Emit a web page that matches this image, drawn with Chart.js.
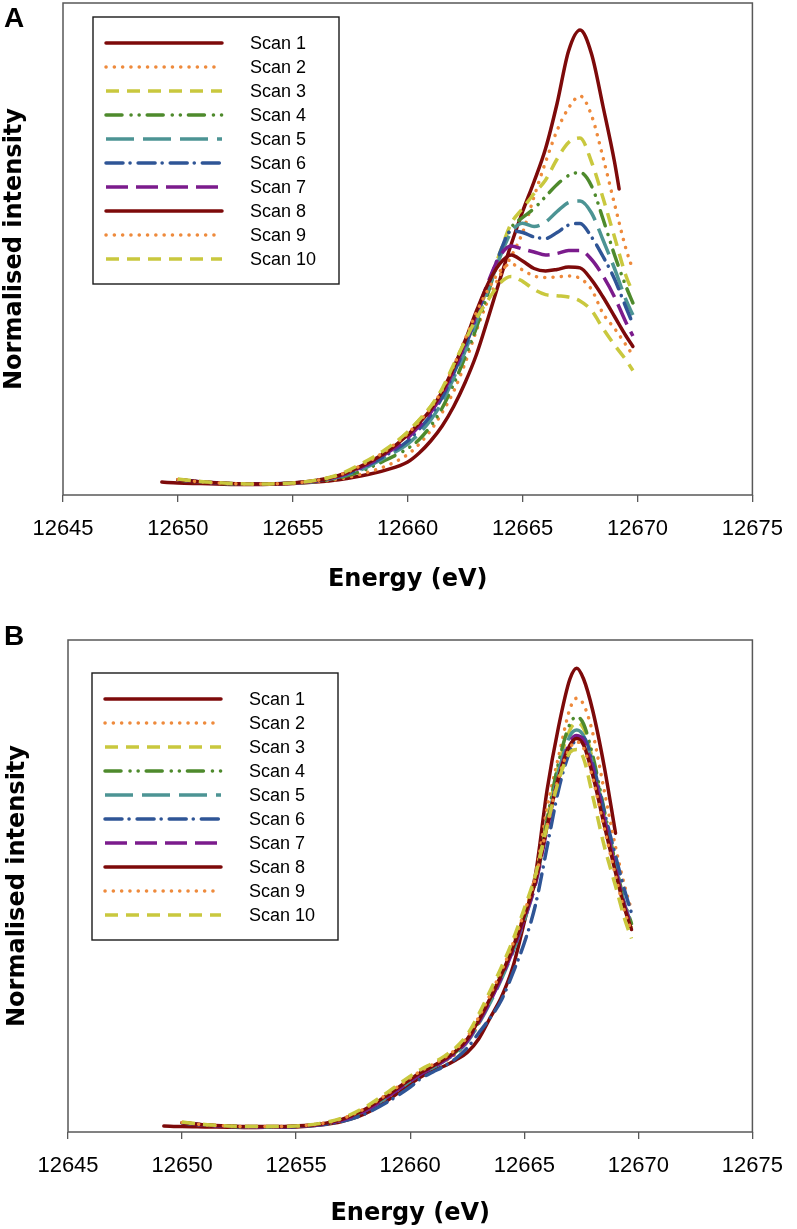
<!DOCTYPE html>
<html>
<head>
<meta charset="utf-8">
<script src="https://cdn.jsdelivr.net/npm/chart.js@4.4.1/dist/chart.umd.min.js"></script>
<style>
  html, body { margin: 0; padding: 0; background: #ffffff; }
  #wrapA { position: absolute; left: 0; top: 0; width: 797px; height: 600px; }
  #wrapB { position: absolute; left: 0; top: 600px; width: 797px; height: 629px; }
</style>
</head>
<body>
<div id="wrapA"><canvas id="chartA" width="797" height="600"></canvas></div>
<div id="wrapB"><canvas id="chartB" width="797" height="629"></canvas></div>
<script>
// ---------------- DATA ----------------
const scanLabels = ['Scan 1','Scan 2','Scan 3','Scan 4','Scan 5','Scan 6','Scan 7','Scan 8','Scan 9','Scan 10'];
const xTickValues = [12645, 12650, 12655, 12660, 12665, 12670, 12675];
const panelLabels = ['A', 'B'];
const xTitle = 'Energy (eV)';
const yTitle = 'Normalised intensity';

// Panel A
const energiesA = [12649.3, 12650, 12651, 12652, 12653, 12654, 12655, 12656, 12657, 12658, 12659, 12660, 12660.5, 12661, 12661.5, 12662, 12662.5, 12663, 12663.5, 12664, 12664.5, 12665, 12665.5, 12666, 12666.5, 12667, 12667.5, 12668, 12668.5, 12669, 12669.2, 12669.5, 12669.8];
const scan1A  = [0.003, 0.0, -0.002, -0.004, -0.005, -0.004, -0.002, 0.003, 0.011, 0.024, 0.042, 0.070, 0.10, 0.14, 0.19, 0.255, 0.335, 0.43, 0.55, 0.675, 0.795, 0.905, 1.005, 1.115, 1.265, 1.44, 1.51, 1.43, 1.255, 1.07, 0.98, null, null];
const scan2A  = [null, 0.01, 0.003, -0.002, -0.004, -0.004, -0.002, 0.004, 0.013, 0.03, 0.055, 0.095, 0.13, 0.175, 0.235, 0.305, 0.40, 0.51, 0.61, 0.69, 0.755, 0.835, 0.955, 1.07, 1.175, 1.25, 1.29, 1.225, 1.085, 0.93, null, 0.78, 0.71];
const scan3A  = [null, 0.012, 0.004, -0.001, -0.003, -0.003, 0.0, 0.008, 0.026, 0.06, 0.105, 0.17, 0.21, 0.255, 0.31, 0.38, 0.46, 0.555, 0.655, 0.765, 0.865, 0.915, 0.965, 1.01, 1.08, 1.135, 1.15, 1.07, 0.95, 0.82, null, 0.69, 0.635];
const scan4A  = [null, 0.01, 0.003, -0.002, -0.004, -0.003, -0.001, 0.005, 0.017, 0.04, 0.075, 0.115, 0.145, 0.19, 0.25, 0.33, 0.42, 0.52, 0.635, 0.755, 0.85, 0.885, 0.915, 0.955, 0.995, 1.025, 1.035, 0.99, 0.88, 0.76, null, 0.655, 0.60];
const scan5A  = [null, 0.011, 0.004, -0.001, -0.003, -0.003, 0.0, 0.006, 0.02, 0.045, 0.085, 0.13, 0.165, 0.21, 0.27, 0.35, 0.44, 0.54, 0.645, 0.75, 0.835, 0.866, 0.855, 0.87, 0.905, 0.935, 0.94, 0.9, 0.81, 0.715, null, 0.61, 0.56];
const scan6A  = [null, 0.011, 0.004, -0.001, -0.003, -0.003, 0.0, 0.007, 0.022, 0.05, 0.09, 0.14, 0.18, 0.225, 0.285, 0.365, 0.455, 0.555, 0.66, 0.765, 0.84, 0.835, 0.82, 0.815, 0.835, 0.86, 0.865, 0.82, 0.755, 0.68, null, 0.585, 0.53];
const scan7A  = [null, 0.011, 0.004, -0.001, -0.003, -0.003, 0.0, 0.007, 0.023, 0.053, 0.095, 0.15, 0.19, 0.235, 0.295, 0.375, 0.465, 0.565, 0.67, 0.755, 0.79, 0.78, 0.77, 0.76, 0.765, 0.775, 0.775, 0.745, 0.69, 0.62, null, 0.535, 0.49];
const scan8A  = [null, 0.011, 0.004, -0.001, -0.003, -0.003, 0.0, 0.008, 0.025, 0.057, 0.10, 0.16, 0.20, 0.245, 0.305, 0.385, 0.475, 0.575, 0.665, 0.73, 0.76, 0.74, 0.715, 0.707, 0.712, 0.72, 0.717, 0.677, 0.62, 0.555, null, 0.49, 0.455];
const scan9A  = [null, 0.012, 0.004, -0.001, -0.003, -0.003, 0.0, 0.008, 0.026, 0.06, 0.105, 0.165, 0.205, 0.25, 0.31, 0.39, 0.48, 0.57, 0.645, 0.705, 0.73, 0.71, 0.69, 0.685, 0.687, 0.69, 0.682, 0.645, 0.565, 0.515, null, 0.46, 0.425];
const scan10A = [null, 0.013, 0.005, 0.0, -0.003, -0.003, 0.0, 0.009, 0.028, 0.065, 0.11, 0.17, 0.21, 0.255, 0.315, 0.395, 0.475, 0.55, 0.61, 0.665, 0.688, 0.672, 0.645, 0.628, 0.624, 0.62, 0.607, 0.575, 0.515, 0.46, null, 0.41, 0.375];

// Panel B
const energiesB = [12649.2, 12650, 12651, 12652, 12653, 12654, 12655, 12656, 12657, 12658, 12659, 12660, 12660.5, 12661, 12661.5, 12662, 12662.5, 12663, 12663.5, 12664, 12664.5, 12665, 12665.5, 12666, 12666.5, 12667, 12667.3, 12667.6, 12668, 12668.5, 12669, 12669.4, 12669.7];
const scan1B  = [0.0, -0.002, -0.003, -0.004, -0.005, -0.004, -0.003, 0.003, 0.015, 0.04, 0.085, 0.14, 0.165, 0.185, 0.2, 0.22, 0.245, 0.29, 0.36, 0.43, 0.53, 0.68, 0.842, 1.12, 1.33, 1.49, 1.526, 1.49, 1.385, 1.2, 0.976, null, null];
const scan2B  = [null, 0.011, 0.003, -0.001, -0.003, -0.003, -0.001, 0.005, 0.02, 0.05, 0.095, 0.15, 0.175, 0.195, 0.215, 0.24, 0.28, 0.34, 0.415, 0.5, 0.6, 0.71, 0.84, 1.06, 1.23, 1.39, 1.426, 1.405, 1.31, 1.12, 0.93, 0.8, 0.72];
const scan3B  = [null, 0.012, 0.004, 0.0, -0.002, -0.002, 0.0, 0.007, 0.024, 0.058, 0.107, 0.16, 0.185, 0.205, 0.228, 0.255, 0.295, 0.36, 0.435, 0.515, 0.605, 0.71, 0.83, 1.02, 1.2, 1.32, 1.345, 1.325, 1.22, 1.04, 0.86, 0.73, 0.66];
const scan4B  = [null, 0.011, 0.003, -0.001, -0.003, -0.003, -0.001, 0.005, 0.02, 0.052, 0.1, 0.152, 0.178, 0.198, 0.22, 0.247, 0.285, 0.345, 0.42, 0.5, 0.59, 0.695, 0.82, 1.02, 1.21, 1.34, 1.364, 1.34, 1.235, 1.055, 0.875, 0.745, 0.675];
const scan5B  = [null, 0.011, 0.003, -0.001, -0.003, -0.003, -0.001, 0.005, 0.02, 0.05, 0.097, 0.15, 0.175, 0.195, 0.217, 0.243, 0.28, 0.34, 0.41, 0.49, 0.58, 0.685, 0.81, 1.0, 1.18, 1.3, 1.32, 1.3, 1.205, 1.035, 0.865, 0.74, 0.67];
const scan6B  = [null, 0.01, 0.003, -0.001, -0.003, -0.003, -0.002, 0.003, 0.015, 0.04, 0.08, 0.13, 0.16, 0.18, 0.2, 0.225, 0.26, 0.31, 0.36, 0.42, 0.51, 0.61, 0.74, 0.93, 1.12, 1.25, 1.29, 1.295, 1.21, 1.05, 0.9, 0.785, 0.71];
const scan7B  = [null, 0.011, 0.003, -0.001, -0.003, -0.003, -0.001, 0.005, 0.02, 0.05, 0.097, 0.15, 0.175, 0.195, 0.218, 0.245, 0.283, 0.345, 0.415, 0.495, 0.585, 0.69, 0.81, 0.99, 1.16, 1.28, 1.302, 1.285, 1.19, 1.025, 0.86, 0.735, 0.665];
const scan8B  = [null, 0.011, 0.004, 0.0, -0.002, -0.002, 0.0, 0.006, 0.022, 0.055, 0.103, 0.156, 0.18, 0.2, 0.223, 0.25, 0.29, 0.352, 0.425, 0.505, 0.595, 0.7, 0.82, 1.0, 1.16, 1.27, 1.292, 1.27, 1.17, 1.005, 0.845, 0.725, 0.655];
const scan9B  = [null, 0.012, 0.004, 0.0, -0.002, -0.002, 0.0, 0.007, 0.024, 0.058, 0.107, 0.16, 0.185, 0.205, 0.228, 0.256, 0.297, 0.362, 0.437, 0.517, 0.607, 0.712, 0.83, 1.0, 1.16, 1.26, 1.28, 1.26, 1.16, 0.995, 0.835, 0.715, 0.65];
const scan10B = [null, 0.013, 0.005, 0.0, -0.002, -0.002, 0.0, 0.008, 0.026, 0.062, 0.112, 0.166, 0.19, 0.21, 0.233, 0.262, 0.305, 0.372, 0.45, 0.53, 0.62, 0.725, 0.84, 1.0, 1.15, 1.245, 1.255, 1.225, 1.1, 0.935, 0.8, 0.69, 0.625];

// ---------------- STYLES ----------------
const C_RED = '#7d0a0a', C_ORG = '#ee8a3c', C_YEL = '#c9c83e', C_GRN = '#4e8a2c',
      C_TEAL = '#4c9494', C_BLUE = '#2f5596', C_PUR = '#7b1b8c';
const seriesStyles = [
  { color: C_RED,  dash: [],                         cap: 'round' },
  { color: C_ORG,  dash: [0.1, 8.2],                 cap: 'round' },
  { color: C_YEL,  dash: [13, 8],                    cap: 'butt'  },
  { color: C_GRN,  dash: [16, 9, 0.1, 8, 0.1, 8],    cap: 'round' },
  { color: C_TEAL, dash: [28, 9],                    cap: 'butt'  },
  { color: C_BLUE, dash: [17, 7, 0.1, 8],            cap: 'round' },
  { color: C_PUR,  dash: [22, 8],                    cap: 'butt'  },
  { color: C_RED,  dash: [],                         cap: 'round' },
  { color: C_ORG,  dash: [0.1, 8.2],                 cap: 'round' },
  { color: C_YEL,  dash: [13, 8],                    cap: 'butt'  }
];

function buildDatasets(energies, seriesList) {
  return seriesList.map((vals, i) => ({
    label: scanLabels[i],
    data: energies.map((e, k) => ({ x: e, y: vals[k] })),
    borderColor: seriesStyles[i].color,
    borderDash: seriesStyles[i].dash,
    borderCapStyle: seriesStyles[i].cap,
    borderJoinStyle: 'round',
    borderWidth: 3.5,
    pointRadius: 0,
    pointHoverRadius: 0,
    fill: false,
    spanGaps: true,
    cubicInterpolationMode: 'monotone',
    order: 10 - i
  }));
}

const framePlugin = {
  id: 'frame',
  afterDraw(chart, args, opts) {
    const ctx = chart.ctx, a = chart.chartArea;
    ctx.save();
    ctx.setLineDash([]);
    ctx.strokeStyle = '#585858';
    ctx.lineWidth = 1.5;
    ctx.strokeRect(a.left, a.top, a.right - a.left, a.bottom - a.top);
    // legend box
    const bx = a.left + opts.dx, by = a.top + opts.dy, bw = 246, bh = 267;
    ctx.fillStyle = '#ffffff';
    ctx.fillRect(bx, by, bw, bh);
    ctx.strokeStyle = '#1a1a1a';
    ctx.lineWidth = 1.4;
    ctx.strokeRect(bx, by, bw, bh);
    chart.data.datasets.forEach((ds, i) => {
      const y = by + 26 + i * 24;
      ctx.beginPath();
      ctx.setLineDash(ds.borderDash || []);
      ctx.lineCap = ds.borderCapStyle;
      ctx.strokeStyle = ds.borderColor;
      ctx.lineWidth = ds.borderWidth;
      ctx.moveTo(bx + 13, y);
      ctx.lineTo(bx + 129, y);
      ctx.stroke();
      ctx.setLineDash([]);
      ctx.fillStyle = '#000000';
      ctx.font = '18px "Liberation Sans", Arial, sans-serif';
      ctx.textBaseline = 'middle';
      ctx.textAlign = 'left';
      ctx.fillText(ds.label, bx + 157, y + 1);
    });
    // panel letter
    ctx.fillStyle = '#000000';
    ctx.font = 'bold 28px "Liberation Sans", Arial, sans-serif';
    ctx.textBaseline = 'alphabetic';
    ctx.textAlign = 'left';
    ctx.fillText(opts.letter, opts.lx, opts.ly);
    ctx.restore();
  }
};

function makeChart(canvasId, energies, seriesList, cfg) {
  return new Chart(document.getElementById(canvasId), {
    type: 'line',
    data: { datasets: buildDatasets(energies, seriesList) },
    plugins: [framePlugin],
    options: {
      responsive: false,
      animation: false,
      events: [],
      layout: { padding: { left: 0, top: cfg.padTop, right: cfg.padRight, bottom: 0 } },
      plugins: {
        legend: { display: false },
        tooltip: { enabled: false },
        frame: { dx: cfg.legDx, dy: cfg.legDy, letter: cfg.letter, lx: 4, ly: cfg.letterY }
      },
      scales: {
        x: {
          type: 'linear',
          min: xTickValues[0],
          max: xTickValues[xTickValues.length - 1],
          afterBuildTicks: (s) => { s.ticks = xTickValues.map(v => ({ value: v })); },
          afterFit: (s) => { s.height = cfg.xAxisH; },
          grid: { display: true, drawOnChartArea: false, drawTicks: true, tickLength: 7, color: '#585858', lineWidth: 1.3 },
          border: { display: false },
          ticks: {
            color: '#000000',
            padding: 14,
            maxRotation: 0,
            autoSkip: false,
            font: { family: '"Liberation Sans", Arial, sans-serif', size: 22 },
            callback: (v) => String(v)
          },
          title: {
            display: true,
            text: xTitle,
            color: '#000000',
            font: { family: '"DejaVu Sans", Verdana, sans-serif', size: 24, weight: 'bold' },
            padding: { top: 0, bottom: cfg.xTitlePad }
          }
        },
        y: {
          type: 'linear',
          min: cfg.yMin,
          max: cfg.yMax,
          afterFit: (s) => { s.width = cfg.yAxisW; },
          grid: { display: false },
          border: { display: false },
          ticks: { display: false },
          title: {
            display: true,
            text: yTitle,
            color: '#000000',
            font: { family: '"DejaVu Sans", Verdana, sans-serif', size: 24, weight: 'bold' },
            padding: { top: cfg.yTitlePad, bottom: 0 }
          }
        }
      }
    }
  });
}

makeChart('chartA', energiesA,
  [scan1A, scan2A, scan3A, scan4A, scan5A, scan6A, scan7A, scan8A, scan9A, scan10A],
  { padTop: 3, padRight: 39, xAxisH: 105, yAxisW: 63, yMin: -0.04, yMax: 1.6,
    legDx: 30, legDy: 14, letter: panelLabels[0], letterY: 27, xTitlePad: 6, yTitlePad: 0 });

makeChart('chartB', energiesB,
  [scan1B, scan2B, scan3B, scan4B, scan5B, scan6B, scan7B, scan8B, scan9B, scan10B],
  { padTop: 40, padRight: 32, xAxisH: 97, yAxisW: 68, yMin: -0.02, yMax: 1.62,
    legDx: 24, legDy: 33, letter: panelLabels[1], letterY: 45, xTitlePad: 1, yTitlePad: 3 });
</script>
</body>
</html>
